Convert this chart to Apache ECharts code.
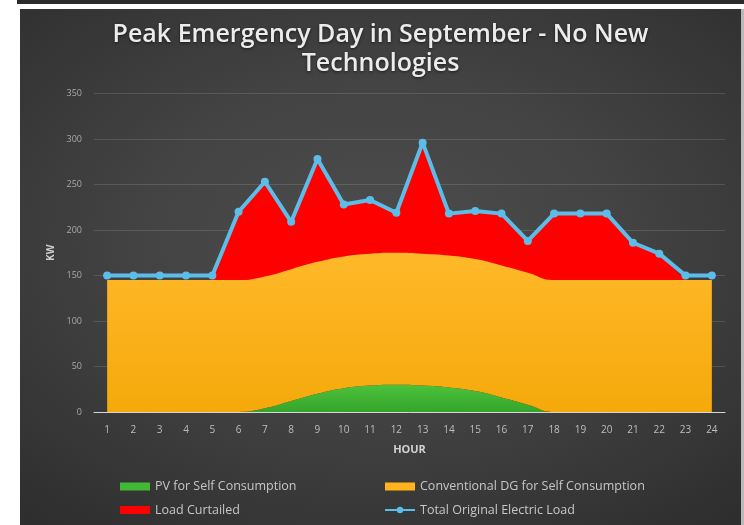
<!DOCTYPE html>
<html>
<head>
<meta charset="utf-8">
<script src="https://cdn.jsdelivr.net/npm/echarts@6/dist/echarts.min.js"></script>
<style>
  html, body { margin: 0; padding: 0; background: #ffffff; width: 744px; height: 525px; overflow: hidden; }
  #topbar { position: absolute; left: 17px; top: 0; width: 727px; height: 4px; background: #2b2b2b; }
  #edge { position: absolute; left: 741px; top: 9px; width: 3px; height: 516px; background: #b9b9b9; }
  #chart {
    position: absolute; left: 20px; top: 9px; width: 721px; height: 516px;
    background: radial-gradient(ellipse 75% 70% at 50% 45%, #4d4d4d 0%, #434343 45%, #363636 80%, #2e2e2e 100%);
  }
</style>
</head>
<body>
<div id="topbar"></div>
<div id="edge"></div>
<div id="chart"></div>
<script>
// Hours of the day
const hours = ['1','2','3','4','5','6','7','8','9','10','11','12','13','14','15','16','17','18','19','20','21','22','23','24'];
// kW supplied by PV for self consumption
const pvSelf = [0,0,0,0,0,0,4,12,20,26,29,30,29,27,23,16,8,0,0,0,0,0,0,0];
// kW supplied by conventional diesel generation
const dgSelf = [145,145,145,145,145,145,145,145,145,145,145,145,145,145,145,145,145,145,145,145,145,145,145,145];
// kW of load curtailed
const curtailed = [0,0,0,0,0,75,104,52,113,57,59,44,122,46,53,57,35,73,73,73,41,29,0,0];
// total original electric load, kW
const totalLoad = [150,150,150,150,150,220,253,209,278,228,233,219,296,218,221,218,188,218,218,218,186,174,150,150];
// y-axis ticks
const yTicks = { min: 0, max: 350, step: 50 };

// top edge of the curtailed band (supply + curtailed), only where a band exists
const curtailTop = hours.map((h, i) => {
  const near = curtailed[i] > 0 || (curtailed[i - 1] || 0) > 0 || (curtailed[i + 1] || 0) > 0;
  return near ? pvSelf[i] + dgSelf[i] + curtailed[i] : null;
});

const chart = echarts.init(document.getElementById('chart'), null, { renderer: 'canvas' });
const font = "'Open Sans', 'DejaVu Sans', sans-serif";

chart.setOption({
  backgroundColor: 'transparent',
  animation: false,
  textStyle: { fontFamily: font },
  title: {
    text: 'Peak Emergency Day in September - No New\nTechnologies',
    left: 'center',
    top: 6.5,
    textStyle: {
      color: '#ececec', fontSize: 25, fontWeight: 600, lineHeight: 29, fontFamily: font,
      textShadowColor: 'rgba(0,0,0,0.6)', textShadowBlur: 3, textShadowOffsetY: 1
    }
  },
  grid: { left: 74, right: 16, top: 84.5, bottom: 113, containLabel: false },
  xAxis: {
    type: 'category',
    data: hours,
    boundaryGap: true,
    axisTick: { show: false },
    axisLine: { lineStyle: { color: '#d6d6d6', width: 1 } },
    axisLabel: { color: '#bdbdbd', fontSize: 10, margin: 13 },
    name: 'HOUR',
    nameLocation: 'middle',
    nameGap: 32,
    nameTextStyle: { color: '#d2d2d2', fontSize: 11, fontWeight: 'bold' }
  },
  yAxis: {
    type: 'value',
    min: yTicks.min, max: yTicks.max, interval: yTicks.step,
    axisLine: { show: false },
    axisTick: { show: false },
    splitLine: { lineStyle: { color: 'rgba(255,255,255,0.13)', width: 1 } },
    axisLabel: { color: '#a9a9a9', fontSize: 9, margin: 12 },
    name: 'KW',
    nameLocation: 'middle',
    nameRotate: 90,
    nameGap: 38,
    nameTextStyle: { color: '#cfcfcf', fontSize: 10, fontWeight: 'bold' }
  },
  legend: [
    {
      left: 100, top: 471, orient: 'vertical', itemGap: 10.5, itemWidth: 30, itemHeight: 8, padding: 0,
      textStyle: { color: '#c6c6c6', fontSize: 12.5, fontFamily: font },
      data: [{ name: 'PV for Self Consumption', icon: 'rect' }, { name: 'Load Curtailed', icon: 'rect' }]
    },
    {
      left: 364, top: 471, orient: 'vertical', itemGap: 10.5, itemWidth: 30, itemHeight: 8, padding: 0,
      textStyle: { color: '#c6c6c6', fontSize: 12.5, fontFamily: font },
      data: [{ name: 'Conventional DG for Self Consumption', icon: 'rect' }, { name: 'Total Original Electric Load' }]
    }
  ],
  series: [
    {
      name: 'Load Curtailed',
      type: 'line',
      data: curtailTop,
      showSymbol: false,
      connectNulls: false,
      lineStyle: { width: 0 },
      itemStyle: { color: '#ff0000' },
      areaStyle: { color: '#ff0000', opacity: 1 },
      z: 1
    },
    {
      name: 'PV for Self Consumption',
      type: 'line',
      stack: 'supply',
      data: pvSelf,
      smooth: 0.5,
      showSymbol: false,
      lineStyle: { width: 0 },
      itemStyle: { color: '#42b934' },
      areaStyle: {
        opacity: 1,
        color: new echarts.graphic.LinearGradient(0, 0, 0, 1, [
          { offset: 0, color: '#4cc23c' }, { offset: 1, color: '#34a52a' }
        ])
      },
      z: 3
    },
    {
      name: 'Conventional DG for Self Consumption',
      type: 'line',
      stack: 'supply',
      data: dgSelf,
      smooth: 0.5,
      showSymbol: false,
      lineStyle: { width: 0 },
      itemStyle: { color: '#ffb41c' },
      areaStyle: {
        opacity: 1,
        color: new echarts.graphic.LinearGradient(0, 0, 0, 1, [
          { offset: 0, color: '#ffb829' }, { offset: 1, color: '#f5a90a' }
        ])
      },
      z: 2
    },
    {
      name: 'Total Original Electric Load',
      type: 'line',
      data: totalLoad,
      symbol: 'circle',
      symbolSize: 8,
      lineStyle: { color: '#5cbde9', width: 4 },
      itemStyle: { color: '#5cbde9' },
      z: 5
    }
  ]
});
</script>
</body>
</html>
